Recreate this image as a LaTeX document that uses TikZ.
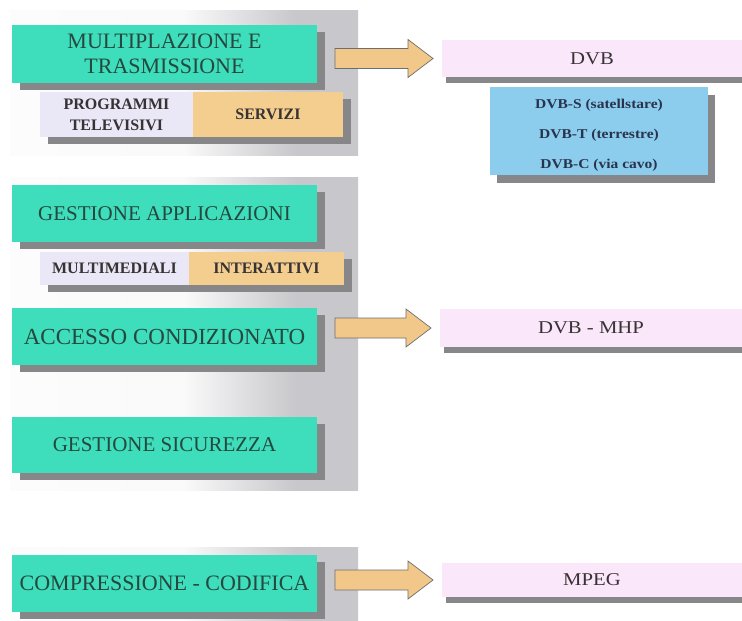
\documentclass[tikz,border=0pt]{standalone}
\usepackage{fontspec}
\setmainfont{Liberation Serif}
\newfontfamily\widefont[FakeStretch=1.15]{Liberation Serif}
\usetikzlibrary{shadows,calc}

\definecolor{boxgreen}{RGB}{62,222,188}
\definecolor{greentext}{RGB}{38,72,62}
\definecolor{lavender}{RGB}{234,232,246}
\definecolor{sand}{RGB}{244,206,142}
\definecolor{pinkbox}{RGB}{250,232,250}
\definecolor{skyblue}{RGB}{140,204,236}
\definecolor{shadowgray}{RGB}{135,135,138}
\definecolor{panelgray}{RGB}{200,200,204}
\definecolor{darktext}{RGB}{55,50,52}
\definecolor{bluetext}{RGB}{40,52,78}
\definecolor{arrowfill}{RGB}{242,200,138}
\definecolor{arrowline}{RGB}{110,110,110}

% backdrop behind each group of layers: white on the left, grey on the right
\pgfdeclarehorizontalshading{panelshade}{100bp}{%
  color(0bp)=(white); color(25bp)=(white!95!panelgray);
  color(50bp)=(white!90!panelgray); color(66bp)=(panelgray);
  color(75bp)=(panelgray); color(100bp)=(panelgray)}

\pgfdeclarelayer{panel}
\pgfdeclarelayer{shade}
\pgfsetlayers{panel,shade,main}

\tikzset{
  layerbox/.style={rectangle, fill=boxgreen, text=greentext, inner sep=0pt,
    outer sep=0pt, align=center, font=\fontsize{21}{25}\selectfont,
    minimum width=305pt, minimum height=57pt,
    drop shadow={shadow xshift=8pt, shadow yshift=-7pt, fill=shadowgray, opacity=1}},
  tagbox/.style={rectangle, inner sep=0pt, outer sep=0pt, align=center,
    text=darktext, font=\bfseries\fontsize{16}{21}\selectfont},
  stdbox/.style={rectangle, fill=pinkbox, text=darktext, inner sep=0pt,
    outer sep=0pt, minimum width=300pt, font=\widefont\fontsize{18}{22}\selectfont,
    drop shadow={shadow xshift=4pt, shadow yshift=-5.5pt, fill=shadowgray, opacity=1}},
  variantbox/.style={rectangle, fill=skyblue, text=bluetext, inner sep=0pt,
    outer sep=0pt, align=center, minimum width=218pt, minimum height=88pt,
    font=\widefont\bfseries\fontsize{13.5}{30}\selectfont,
    drop shadow={shadow xshift=7pt, shadow yshift=-8pt, fill=shadowgray, opacity=1}},
  flowarrowstyle/.style={fill=arrowfill, draw=arrowline, line width=0.7pt,
    line join=miter}
}

% block arrow from a layer box to the standard it uses
\newcommand{\flowarrow}[2]{%
  \draw[flowarrowstyle] let \p1=(#1.east), \p2=(#2.west) in
    (\x1+18,\y2+10) -- (\x2-34,\y2+10) -- (\x2-34,\y2+19) -- (\x2-9,\y2)
    -- (\x2-34,\y2-19) -- (\x2-34,\y2-10) -- (\x1+18,\y2-10) -- cycle;}

\begin{document}
\begin{tikzpicture}[x=1pt,y=-1pt]
\useasboundingbox (0,0) rectangle (742,621);

% grey backdrops
\begin{pgfonlayer}{panel}
  \fill[white] (0,0) rectangle (742,621);
  \shade[shading=panelshade] (10,10) rectangle (358,155);
  \shade[shading=panelshade] (10,177) rectangle (358,490);
  \shade[shading=panelshade] (10,547) rectangle (358,621);
\end{pgfonlayer}

% protocol layers
\node[layerbox, minimum height=58pt, font=\fontsize{22}{25}\selectfont] (mux)
  at (164.5,53.5) {MULTIPLAZIONE E\\TRASMISSIONE};
\node[tagbox, fill=lavender, minimum width=153pt, minimum height=45pt] (prog)
  at (116.5,114.5) {PROGRAMMI\\TELEVISIVI};
\node[tagbox, fill=sand, minimum width=150pt, minimum height=45pt] (serv)
  at (268,114.5) {SERVIZI};

\node[layerbox] (app) at (164.5,213.5) {GESTIONE APPLICAZIONI};
\node[tagbox, fill=lavender, minimum width=149pt, minimum height=33pt] (multi)
  at (114.5,268.5) {MULTIMEDIALI};
\node[tagbox, fill=sand, minimum width=155pt, minimum height=33pt] (inter)
  at (266.5,268.5) {INTERATTIVI};

\node[layerbox, font=\fontsize{23}{25}\selectfont] (ca) at (164.5,336.5)
  {ACCESSO CONDIZIONATO};
\node[layerbox, minimum height=56pt] (sec) at (164.5,445) {GESTIONE SICUREZZA};
\node[layerbox, font=\fontsize{22}{25}\selectfont] (comp) at (164.5,583.5)
  {COMPRESSIONE - CODIFICA};

% shared shadows under the two-part tag rows
\begin{pgfonlayer}{shade}
  \fill[shadowgray] ($(prog.north west)+(8,7)$) rectangle ($(serv.south east)+(8,7)$);
  \fill[shadowgray] ($(multi.north west)+(8,7)$) rectangle ($(inter.south east)+(8,7)$);
\end{pgfonlayer}

% standards
\node[stdbox, minimum height=37pt] (dvb) at (592,58.5) {DVB};
\node[variantbox] (variants) at (599,131)
  {\rule{0pt}{18pt}DVB-S (satellstare)\\DVB-T (terrestre)\\DVB-C (via cavo)};
\node[stdbox, minimum width=302pt, minimum height=38pt] (mhp) at (591,328) {DVB - MHP};
\node[stdbox, minimum height=34pt] (mpeg) at (592,580) {MPEG};

% arrows
\flowarrow{mux}{dvb}
\flowarrow{ca}{mhp}
\flowarrow{comp}{mpeg}
\end{tikzpicture}
\end{document}
